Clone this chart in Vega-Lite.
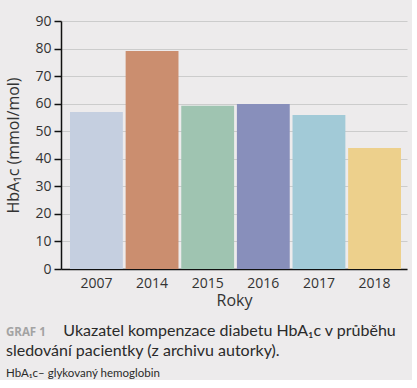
{
  "$schema": "https://vega.github.io/schema/vega-lite/v6.json",
  "background": "#edebec",
  "padding": {"left": 5, "top": 14, "right": 5, "bottom": 0},
  "title": {
    "text": "GRAF 1",
    "orient": "bottom",
    "anchor": "start",
    "frame": "bounds",
    "font": "Open Sans",
    "fontSize": 11.5,
    "fontWeight": "bold",
    "color": "#a3a3a3",
    "offset": 0,
    "dy": -53
  },
  "config": {
    "view": {"stroke": null},
    "font": "Open Sans"
  },
  "vconcat": [
    {
      "width": 346,
      "height": 248,
      "title": {
        "text": ["\u200b\u00a0\u00a0\u00a0\u00a0\u00a0\u00a0\u00a0\u00a0\u00a0\u00a0\u00a0\u00a0\u00a0\u00a0Ukazatel kompenzace diabetu HbA₁c v průběhu", "sledování pacientky (z archivu autorky)."],
        "subtitle": "HbA₁c– glykovaný hemoglobin",
        "orient": "bottom",
        "anchor": "start",
        "frame": "bounds",
        "font": "Lato",
        "fontSize": 16,
        "fontWeight": "normal",
        "color": "#2a2a2a",
        "lineHeight": 20,
        "offset": 15,
        "subtitleFont": "Lato",
        "subtitleFontSize": 11.5,
        "subtitleColor": "#2a2a2a",
        "subtitlePadding": 9
      },
      "data": {
        "values": [
          {"rok": "2007", "hba1c": 57.0},
          {"rok": "2014", "hba1c": 79.1},
          {"rok": "2015", "hba1c": 59.2},
          {"rok": "2016", "hba1c": 59.9},
          {"rok": "2017", "hba1c": 55.9},
          {"rok": "2018", "hba1c": 43.9}
        ]
      },
      "mark": {"type": "bar"},
      "encoding": {
        "x": {
          "field": "rok",
          "type": "nominal",
          "scale": {"paddingInner": 0.05, "paddingOuter": 0.135, "align": 0.6},
          "axis": {
            "title": "Roky",
            "labelAngle": 0,
            "ticks": false,
            "labelPadding": 7,
            "labelFontSize": 14,
            "labelColor": "#333333",
            "titleFontSize": 16,
            "titleFontWeight": "normal",
            "titleColor": "#333333",
            "titlePadding": 2,
            "domainColor": "#111111",
            "domainWidth": 1.5
          }
        },
        "y": {
          "field": "hba1c",
          "type": "quantitative",
          "scale": {"domain": [0, 90]},
          "axis": {
            "title": "HbA₁c (mmol/mol)",
            "values": [0, 10, 20, 30, 40, 50, 60, 70, 80, 90],
            "tickSize": 7,
            "tickColor": "#111111",
            "tickWidth": 1.5,
            "labelPadding": 3,
            "labelFontSize": 14,
            "labelColor": "#333333",
            "titleFontSize": 16,
            "titleFontWeight": "normal",
            "titleColor": "#333333",
            "titlePadding": 13,
            "domainColor": "#111111",
            "domainWidth": 1.5,
            "gridColor": "#cccccc",
            "gridWidth": 1.2
          }
        },
        "color": {
          "field": "rok",
          "type": "nominal",
          "scale": {
            "domain": ["2007", "2014", "2015", "2016", "2017", "2018"],
            "range": ["#c5cfe0", "#cb8e6f", "#9fc4b1", "#888fbb", "#a2cad7", "#edd08c"]
          },
          "legend": null
        }
      }
    }
  ]
}
